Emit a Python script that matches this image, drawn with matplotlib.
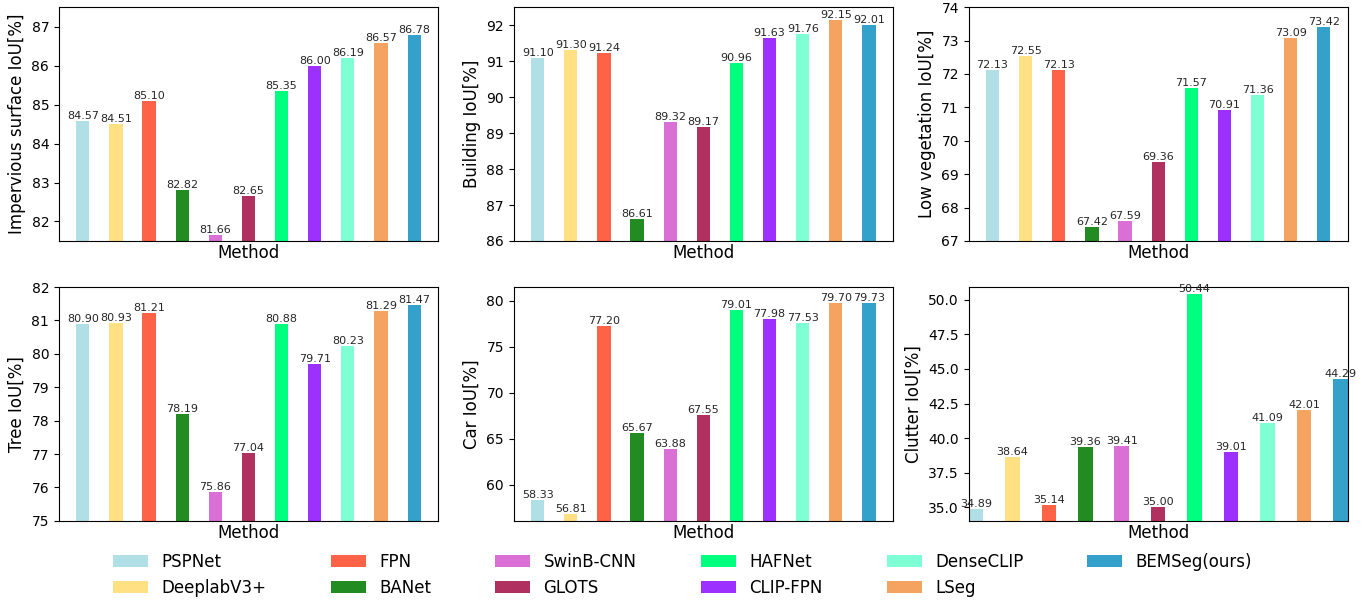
import matplotlib
matplotlib.use("Agg")
import matplotlib.pyplot as plt
from matplotlib.patches import Patch

methods = ["PSPNet", "DeeplabV3+", "FPN", "BANet", "SwinB-CNN", "GLOTS",
           "HAFNet", "CLIP-FPN", "DenseCLIP", "LSeg", "BEMSeg(ours)"]
colors = ["#B0E0E6", "#FFE082", "#FF6347", "#228B22", "#DA70D6", "#B03060",
          "#00FF7F", "#9B30FF", "#7FFFD4", "#F4A460", "#33A1C9"]

impervious = [84.57, 84.51, 85.10, 82.82, 81.66, 82.65, 85.35, 86.00, 86.19, 86.57, 86.78]
building = [91.10, 91.30, 91.24, 86.61, 89.32, 89.17, 90.96, 91.63, 91.76, 92.15, 92.01]
low_veg = [72.13, 72.55, 72.13, 67.42, 67.59, 69.36, 71.57, 70.91, 71.36, 73.09, 73.42]
tree = [80.90, 80.93, 81.21, 78.19, 75.86, 77.04, 80.88, 79.71, 80.23, 81.29, 81.47]
car = [58.33, 56.81, 77.20, 65.67, 63.88, 67.55, 79.01, 77.98, 77.53, 79.70, 79.73]
clutter = [34.89, 38.64, 35.14, 39.36, 39.41, 35.00, 50.44, 39.01, 41.09, 42.01, 44.29]

panels = [
    (impervious, "Impervious surface IoU[%]", (81.5, 87.5)),
    (building, "Building IoU[%]", (86, 92.5)),
    (low_veg, "Low vegetation IoU[%]", (67, 74)),
    (tree, "Tree IoU[%]", (75, 82)),
    (car, "Car IoU[%]", (56.07, 81.49)),
    (clutter, "Clutter IoU[%]", (34.03, 50.92)),
]

fig, axes = plt.subplots(2, 3, figsize=(13.71, 6.0), dpi=100)
fig.subplots_adjust(left=0.043, right=0.983, top=0.988, bottom=0.132,
                    wspace=0.2, hspace=0.197)

x = list(range(len(methods)))
for ax, (vals, ylabel, ylim) in zip(axes.flat, panels):
    bars = ax.bar(x, vals, width=0.4, color=colors)
    for b, v in zip(bars, vals):
        ax.text(b.get_x() + b.get_width() / 2, v, f"{v:.2f}",
                ha="center", va="bottom", fontsize=8, color="#262626")
    ax.set_ylim(*ylim)
    ax.set_xticks([])
    ax.set_xlabel("Method", fontsize=12, labelpad=2)
    ax.set_ylabel(ylabel, fontsize=12)
    ax.tick_params(axis="y", labelsize=10)

# the clutter panel has no side margins
axes[1, 2].set_xlim(-0.2, 10.2)

handles = [Patch(facecolor=c, label=m) for c, m in zip(colors, methods)]
fig.legend(handles=handles, loc="center", bbox_to_anchor=(0.498, 0.042),
           ncol=6, frameon=False, fontsize=12, columnspacing=3.85,
           handlelength=2.1, labelspacing=0.5)

fig.savefig("out.png", dpi=100)
